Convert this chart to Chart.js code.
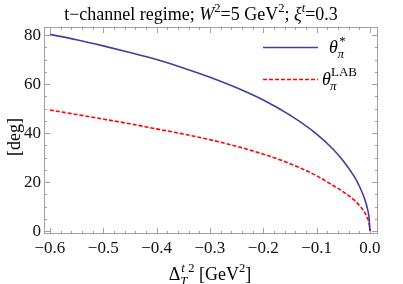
<!DOCTYPE html>
<html>
<head>
<meta charset="utf-8">
<script src="https://cdn.jsdelivr.net/npm/chart.js@4.4.1/dist/chart.umd.min.js"></script>
<style>
  html, body { margin: 0; padding: 0; background: #fff; }
  #wrap { width: 403px; height: 284px; }
</style>
</head>
<body>
<div id="wrap"><canvas id="myChart" width="403" height="284"></canvas></div>
<script>
// Δ_T^t² values (GeV²)
const deltaT2 = [-0.6, -0.55, -0.5, -0.45, -0.4, -0.35, -0.3, -0.25, -0.2, -0.15, -0.1, -0.07, -0.05, -0.03, -0.02, -0.01, -0.005, -0.002, 0]
// θπ* (deg)
const thetaStar = [80.3, 78.1, 75.6, 72.9, 70.0, 66.6, 62.8, 58.5, 53.5, 47.3, 39.6, 33.6, 28.6, 22.4, 18.4, 13.1, 9.3, 5.9, 0]
// θπ LAB (deg)
const thetaLab = [49.4, 47.6, 45.7, 43.8, 41.7, 39.6, 37.3, 34.6, 31.4, 27.5, 22.6, 18.7, 16.0, 12.7, 10.5, 7.6, 5.4, 3.4, 0]

const xTicks = [-0.6, -0.5, -0.4, -0.3, -0.2, -0.1, 0.0]
const yTicks = [0, 20, 40, 60, 80]

const SERIF = '"Liberation Serif", "DejaVu Serif", serif'

const fmtX = v => (v < 0 ? '\u2212' : '') + Math.abs(v).toFixed(1)

// draw text made of segments: {t, it, sup, sub, stack:{sup,sub}}
const richWidth = (ctx, segs, size) => {
  let w = 0
  segs.forEach(s => {
    if (s.stack) {
      ctx.font = 'italic ' + (size * 0.7) + 'px ' + SERIF
      w += Math.max(ctx.measureText(s.stack.sup).width, ctx.measureText(s.stack.sub).width) + 1
    } else {
      const sz = (s.sup || s.sub) ? size * 0.7 : size
      ctx.font = (s.it ? 'italic ' : '') + sz + 'px ' + SERIF
      w += ctx.measureText(s.t).width
    }
  })
  return w
}

const drawRich = (ctx, segs, x, y, size, align) => {
  let cx = x
  const w = richWidth(ctx, segs, size)
  if (align === 'center') cx = x - w / 2
  if (align === 'right') cx = x - w
  ctx.textBaseline = 'alphabetic'
  ctx.textAlign = 'left'
  segs.forEach(s => {
    if (s.stack) {
      ctx.font = 'italic ' + (size * 0.7) + 'px ' + SERIF
      ctx.fillText(s.stack.sup, cx + 1, y - size * 0.45)
      ctx.fillText(s.stack.sub, cx, y + size * 0.25)
      cx += Math.max(ctx.measureText(s.stack.sup).width, ctx.measureText(s.stack.sub).width) + 1
      return
    }
    const sz = (s.sup || s.sub) ? size * 0.7 : size
    ctx.font = (s.it ? 'italic ' : '') + sz + 'px ' + SERIF
    let dy = 0
    if (s.sup) dy = -size * 0.42
    if (s.sub) dy = size * 0.25
    ctx.fillText(s.t, cx, y + dy)
    cx += ctx.measureText(s.t).width
  })
}

const framePlugin = {
  id: 'frame',
  beforeDatasetsDraw(chart) {
    const { ctx, chartArea: a, scales } = chart
    ctx.save()
    ctx.strokeStyle = '#a0a0a0'
    ctx.lineWidth = 1
    ctx.strokeRect(a.left + 0.5, a.top + 0.5, a.right - a.left - 1, a.bottom - a.top - 1)
    ctx.beginPath()
    for (let v = -0.6; v <= 0.0001; v += 0.02) {
      const major = Math.abs(v * 10 - Math.round(v * 10)) < 1e-6
      const len = major ? 6 : 3
      const px = Math.round(scales.x.getPixelForValue(v)) + 0.5
      ctx.moveTo(px, a.bottom); ctx.lineTo(px, a.bottom - len)
      ctx.moveTo(px, a.top); ctx.lineTo(px, a.top + len)
    }
    for (let v = 0; v <= 80; v += 5) {
      const len = v % 20 === 0 ? 6 : 3
      const py = Math.round(scales.y.getPixelForValue(v)) + 0.5
      ctx.moveTo(a.left, py); ctx.lineTo(a.left + len, py)
      ctx.moveTo(a.right, py); ctx.lineTo(a.right - len, py)
    }
    ctx.stroke()
    ctx.restore()
  },
  afterDraw(chart) {
    const { ctx } = chart
    ctx.save()
    ctx.fillStyle = '#000'
    // title
    drawRich(ctx, [
      { t: 't\u2212channel regime; ' }, { t: 'W', it: true }, { t: '2', sup: true },
      { t: '=5 GeV' }, { t: '2', sup: true }, { t: '; ' },
      { t: '\u03be', it: true }, { t: 't', it: true, sup: true }, { t: '=0.3' }
    ], 201, 20, 18, 'center')
    // x axis title
    drawRich(ctx, [
      { t: '\u0394' }, { stack: { sup: 't', sub: 'T' } }, { t: '2', sup: true },
      { t: ' [GeV' }, { t: '2', sup: true }, { t: ']' }
    ], 210, 280, 18, 'center')
    // y axis title
    ctx.translate(20, 137)
    ctx.rotate(-Math.PI / 2)
    drawRich(ctx, [{ t: '[deg]' }], 0, 0, 18, 'center')
    ctx.setTransform(1, 0, 0, 1, 0, 0)
    // legend
    ctx.lineWidth = 1.6
    ctx.strokeStyle = '#3f3f9f'
    ctx.beginPath(); ctx.moveTo(263, 47.5); ctx.lineTo(318, 47.5); ctx.stroke()
    ctx.strokeStyle = '#ff0000'
    ctx.setLineDash([4, 2])
    ctx.beginPath(); ctx.moveTo(263, 79.5); ctx.lineTo(318, 79.5); ctx.stroke()
    ctx.setLineDash([])
    drawRich(ctx, [{ t: '\u03b8', it: true }, { stack: { sup: '*', sub: '\u03c0' } }], 329, 53, 18, 'left')
    ctx.font = 'italic 18px ' + SERIF
    ctx.fillText('\u03b8', 322, 85)
    ctx.font = 'italic 13px ' + SERIF
    ctx.fillText('\u03c0', 330, 90)
    ctx.font = '13px ' + SERIF
    ctx.fillText('LAB', 331, 76)
    ctx.restore()
  }
}

const createChart = () => {
  const data = {
    labels: deltaT2,
    datasets: [
      {
        label: '\u03b8\u03c0*',
        data: deltaT2.map((x, i) => ({ x, y: thetaStar[i] })),
        borderColor: '#3f3f9f',
        borderWidth: 1.6,
        pointRadius: 0,
        cubicInterpolationMode: 'monotone'
      },
      {
        label: '\u03b8\u03c0 LAB',
        data: deltaT2.map((x, i) => ({ x, y: thetaLab[i] })),
        borderColor: '#ff0000',
        borderWidth: 1.6,
        borderDash: [4, 2],
        pointRadius: 0,
        cubicInterpolationMode: 'monotone'
      }
    ]
  }

  const config = {
    type: 'line',
    data: data,
    options: {
      responsive: false,
      animation: false,
      layout: { padding: { left: 0, top: 27, right: 25, bottom: 0 } },
      plugins: { legend: { display: false }, title: { display: false }, tooltip: { enabled: false } },
      scales: {
        x: {
          type: 'linear',
          min: -0.611,
          max: 0.015,
          grid: { display: false, drawTicks: false },
          border: { display: false },
          afterBuildTicks: s => { s.ticks = xTicks.map(v => ({ value: v })) },
          afterFit: s => { s.height = 50 },
          ticks: {
            padding: 4,
            color: '#111',
            font: { family: SERIF, size: 17 },
            maxRotation: 0,
            autoSkip: false,
            callback: v => fmtX(v)
          }
        },
        y: {
          min: -1.2,
          max: 83.3,
          grid: { display: false, drawTicks: false },
          border: { display: false },
          afterBuildTicks: s => { s.ticks = yTicks.map(v => ({ value: v })) },
          afterFit: s => { s.width = 44 },
          ticks: {
            padding: 3,
            color: '#111',
            font: { family: SERIF, size: 17 },
            callback: v => String(v)
          }
        }
      }
    },
    plugins: [framePlugin]
  }

  myChart = new Chart(document.getElementById('myChart'), config)
}

createChart()
</script>
</body>
</html>
